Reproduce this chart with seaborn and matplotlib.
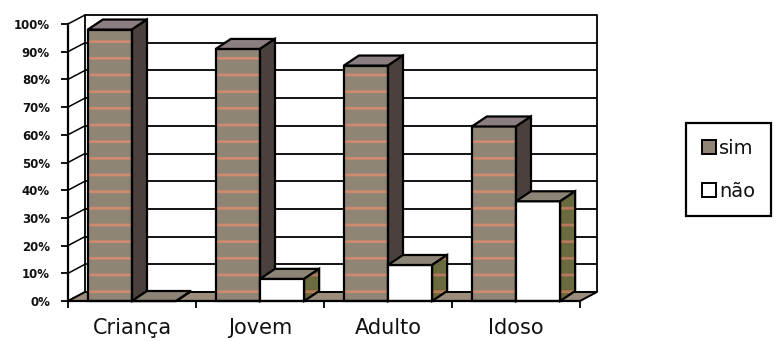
import matplotlib
matplotlib.use("Agg")
import matplotlib.pyplot as plt
from matplotlib.patches import Polygon, Rectangle, Patch
import numpy as np
import pandas as pd
import seaborn as sns

# --- data -----------------------------------------------------------------
faixas = ["Criança", "Jovem", "Adulto", "Idoso"]
respostas = ["sim", "não"]
sim = [98, 91, 85, 63]
nao = [0, 8, 13, 36]
yticks = [0, 10, 20, 30, 40, 50, 60, 70, 80, 90, 100]
ytick_labels = ["0%", "10%", "20%", "30%", "40%", "50%", "60%", "70%", "80%", "90%", "100%"]

df = pd.DataFrame({
    "faixa": faixas * 2,
    "resposta": ["sim"] * len(faixas) + ["não"] * len(faixas),
    "pct": sim + nao,
})

# --- colours --------------------------------------------------------------
SIM_FRONT = "#8e8575"
SIM_STRIPE = "#cf8a70"
SIM_TOP = "#8b7e80"
SIM_SIDE = "#4a403d"
NAO_FRONT = "#ffffff"
NAO_TOP = "#8c8476"
NAO_SIDE = "#6b6a3f"
FLOOR = "#9c8c7b"

sns.set_theme(style="white")
plt.rcParams["hatch.linewidth"] = 2.0

W, H = 776, 341
fig = plt.figure(figsize=(W / 100, H / 100), dpi=100)
ax = fig.add_axes([68 / W, 40 / H, 512 / W, 277 / H])

sns.barplot(data=df, x="faixa", y="pct", hue="resposta", order=faixas,
            hue_order=respostas, palette=[SIM_FRONT, NAO_FRONT],
            width=0.69, saturation=1, ax=ax, legend=False, zorder=3)

ax.set_xlim(-0.5, 3.5)
ax.set_ylim(0, 100)

# pixel -> data conversions for the depth effect
px_x = 4 / 512
px_y = 100 / 277
bdx, bdy = 15 * px_x, 10 * px_y     # bar depth
wdx, wdy = 17 * px_x, 9 * px_y      # back wall depth

LW = 1.6

# back wall gridlines and side wall diagonals
for v in yticks:
    ax.plot([-0.5 + wdx, 3.5 + wdx], [v + wdy, v + wdy], color="black",
            lw=1.3, zorder=0.5, clip_on=False, solid_capstyle="butt")
    ax.plot([-0.5, -0.5 + wdx], [v, v + wdy], color="black", lw=1.1,
            zorder=0.5, clip_on=False)
for xe in (-0.5 + wdx, 3.5 + wdx):
    ax.plot([xe, xe], [wdy, 100 + wdy], color="black", lw=1.3,
            zorder=0.5, clip_on=False)

# floor
floor_pts = [(-0.5, 0), (3.5, 0), (3.5 + wdx, wdy), (-0.5 + wdx, wdy)]
ax.fill([p[0] for p in floor_pts], [p[1] for p in floor_pts],
        facecolor=FLOOR, edgecolor="none", lw=0, zorder=1, clip_on=False)
ax.add_patch(Polygon(floor_pts, closed=True, fill=False, edgecolor="black",
                     lw=1.4, zorder=1.1, clip_on=False))

styles = {
    0: dict(front=SIM_FRONT, top=SIM_TOP, side=SIM_SIDE, stripe_front=True,
            stripe_side=False),
    1: dict(front=NAO_FRONT, top=NAO_TOP, side=NAO_SIDE, stripe_front=False,
            stripe_side=True),
}

# add top and side faces to every bar, drawing each group from left to right
z = 3
for i in range(len(faixas)):
    for h_idx in (0, 1):
        bar = ax.containers[h_idx][i]
        st = styles[h_idx]
        x0 = bar.get_x()
        x1 = x0 + bar.get_width()
        y1 = bar.get_height()
        z += 1
        bar.set_zorder(z)
        bar.set_clip_on(False)
        if st["stripe_front"]:
            bar.set_hatch("-")
            bar.set_edgecolor(SIM_STRIPE)
        bar.set_linewidth(0)
        ax.add_patch(Rectangle((x0, 0), x1 - x0, y1, fill=False,
                               edgecolor="black", lw=LW, zorder=z + 0.1,
                               clip_on=False))
        top = Polygon([(x0, y1), (x1, y1), (x1 + bdx, y1 + bdy),
                       (x0 + bdx, y1 + bdy)], closed=True,
                      facecolor=st["top"], edgecolor="black", lw=LW,
                      zorder=z + 0.2, clip_on=False, joinstyle="miter")
        ax.add_patch(top)
        side_pts = [(x1, 0), (x1 + bdx, bdy), (x1 + bdx, y1 + bdy), (x1, y1)]
        side = Polygon(side_pts, closed=True, facecolor=st["side"],
                       zorder=z + 0.3, clip_on=False, lw=0)
        if st["stripe_side"]:
            side.set_hatch("-")
            side.set_edgecolor("#b8785a")
            side.set_linewidth(0)
        ax.add_patch(side)
        ax.add_patch(Polygon(side_pts, closed=True, fill=False,
                             edgecolor="black", lw=LW, zorder=z + 0.4,
                             clip_on=False, joinstyle="miter"))

# axes styling
for s in ("top", "right"):
    ax.spines[s].set_visible(False)
for s in ("left", "bottom"):
    ax.spines[s].set_color("black")
    ax.spines[s].set_linewidth(1.6)
    ax.spines[s].set_zorder(20)
ax.set_facecolor("none")

ax.set_yticks(yticks)
ax.set_yticklabels(ytick_labels, fontsize=8.5, fontweight="bold",
                   family="DejaVu Sans", color="#111111")
ax.tick_params(axis="y", length=5, width=1.3, color="black", direction="out",
               pad=8, left=True)
ax.set_xticks(range(len(faixas)))
ax.set_xticklabels(faixas, fontsize=15, family="DejaVu Sans", color="#111111")
ax.tick_params(axis="x", length=0, pad=12)
ax.set_xticks([-0.5, 0.5, 1.5, 2.5, 3.5], minor=True)
ax.tick_params(axis="x", which="minor", length=5, width=1.3, color="black",
               direction="out", bottom=True)
ax.set_xlabel("")
ax.set_ylabel("")

# legend
handles = [
    Patch(facecolor=SIM_FRONT, edgecolor="black", lw=1.4, label=respostas[0]),
    Patch(facecolor=NAO_FRONT, edgecolor="black", lw=1.4, label=respostas[1]),
]
leg = fig.legend(handles=handles, loc="upper left",
                 bbox_to_anchor=(686 / W, 1 - 123 / H), frameon=True,
                 fancybox=False, framealpha=1, edgecolor="black",
                 prop={"family": "DejaVu Sans", "size": 14},
                 handlelength=0.75, handleheight=0.75, handletextpad=0.15,
                 labelspacing=1.25, borderpad=0.8, borderaxespad=0)
leg.get_frame().set_linewidth(1.6)
for t in leg.get_texts():
    t.set_color("#111111")

fig.savefig("out.png", dpi=100, facecolor="white")
